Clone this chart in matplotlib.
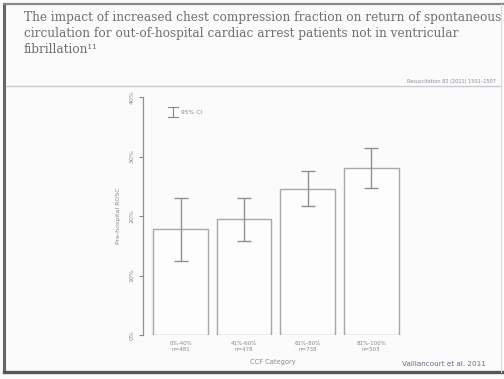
import matplotlib
matplotlib.use("Agg")
import matplotlib.pyplot as plt
from matplotlib.lines import Line2D
import numpy as np

categories = ["0%-40%\nn=481", "41%-60%\nn=478", "61%-80%\nn=738", "81%-100%\nn=503"]
rosc = [17.8, 19.5, 24.6, 28.1]
ci_low = [12.5, 15.8, 21.7, 24.7]
ci_high = [23.0, 23.0, 27.6, 31.5]
yticks = [0, 10, 20, 30, 40]
ytick_labels = ["0%", "10%", "20%", "30%", "40%"]

W, H = 504, 379
fig = plt.figure(figsize=(W / 100, H / 100), dpi=100)
fig.patch.set_facecolor("#fbfbfb")

# slide frame
fig.add_artist(Line2D([4 / W, 4 / W], [1 - 4 / H, 1 - 372 / H], color="#666666", lw=2.2))
fig.add_artist(Line2D([4 / W, 1], [1 - 372 / H, 1 - 372 / H], color="#555555", lw=2.4))
fig.add_artist(Line2D([4 / W, 1], [1 - 4 / H, 1 - 4 / H], color="#888888", lw=1.6))
fig.add_artist(Line2D([501 / W, 501 / W], [1 - 4 / H, 1 - 372 / H], color="#d8d8d8", lw=0.8))
fig.add_artist(Line2D([6 / W, 500 / W], [1 - 86 / H, 1 - 86 / H], color="#c8ccd0", lw=1.0))

title = ("The impact of increased chest compression fraction on return of spontaneous\n"
         "circulation for out-of-hospital cardiac arrest patients not in ventricular\n"
         "fibrillation\u00b9\u00b9")
fig.text(24 / W, 1 - 11 / H, title, ha="left", va="top", fontsize=8.7,
         family="DejaVu Serif", color="#707070", linespacing=1.3)
fig.text(496 / W, 1 - 81 / H, "Resuscitation 82 (2011) 1501\u20131507", ha="right", va="center",
         fontsize=3.6, color="#8a8a9a")

ax = fig.add_axes([143 / W, 1 - 335 / H, (403 - 143) / W, (335 - 97) / H])
ax.set_facecolor("none")
x = np.arange(len(categories))
err = [np.array(rosc) - np.array(ci_low), np.array(ci_high) - np.array(rosc)]
ax.bar(x, rosc, width=0.86, color="#fdfdfd", edgecolor="#a8a8a8", linewidth=1.0)
ax.errorbar(x, rosc, yerr=err, fmt="none", ecolor="#909090", elinewidth=1.0, capsize=5, capthick=1.0)
ax.set_xlim(-0.59, 3.5)
ax.set_ylim(0, 40)
ax.set_yticks(yticks)
ax.set_yticklabels(ytick_labels, rotation=90, va="center", fontsize=4.5, color="#888888")
ax.set_xticks(x)
ax.set_xticklabels(categories, fontsize=4.0, color="#888888", linespacing=1.3)
ax.tick_params(axis="x", length=0, pad=4)
ax.tick_params(axis="y", length=3, color="#888888", width=0.8, pad=3)
for s in ["top", "right", "bottom"]:
    ax.spines[s].set_visible(False)
ax.spines["left"].set_color("#909090")
ax.spines["left"].set_linewidth(0.9)
ax.set_ylabel("Pre-hospital ROSC", fontsize=4.5, color="#888888", labelpad=6)
ax.set_xlabel("CCF Category", fontsize=4.8, color="#888888", labelpad=5)

# legend glyph
lx, ly = 168 / W, 1 - 113 / H
fig.add_artist(Line2D([lx, lx + 10 / W], [1 - 107 / H] * 2, color="#888888", lw=0.8))
fig.add_artist(Line2D([lx, lx + 10 / W], [1 - 117 / H] * 2, color="#888888", lw=0.8))
fig.add_artist(Line2D([lx + 5 / W] * 2, [1 - 107 / H, 1 - 117 / H], color="#888888", lw=0.8))
fig.text(lx + 13 / W, ly, "95% CI", fontsize=4.2, color="#888888", va="center", ha="left")

fig.text(486 / W, 1 - 364 / H, "Vaillancourt et al. 2011", ha="right", va="center",
         fontsize=5.2, color="#6a6a88")

fig.savefig("out.png", dpi=100, facecolor=fig.get_facecolor())
